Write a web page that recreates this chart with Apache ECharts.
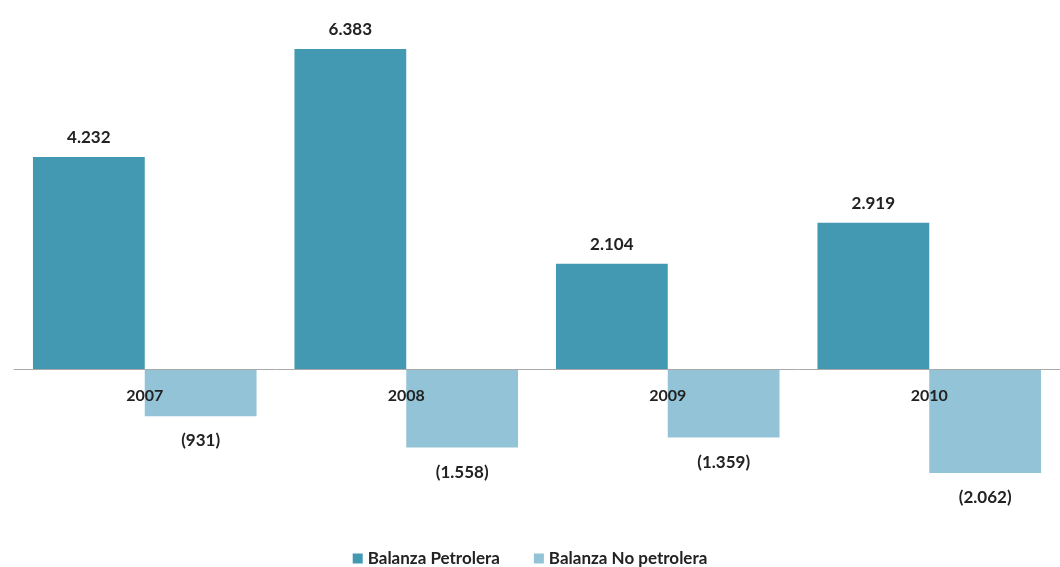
<!DOCTYPE html>
<html>
<head>
<meta charset="utf-8">
<script src="https://cdn.jsdelivr.net/npm/echarts@6/dist/echarts.min.js"></script>
<style>
  html, body { margin: 0; padding: 0; background: #fff; }
  #chart { width: 1060px; height: 567px; }
</style>
</head>
<body>
<div id="chart"></div>
<script>
const years = ['2007', '2008', '2009', '2010'];
const petrolera = [4232, 6383, 2104, 2919];
const noPetrolera = [-931, -1558, -1359, -2062];

// 4232 -> "4.232", -931 -> "(931)"
function fmt(v) {
  const s = Math.abs(v).toString().replace(/\B(?=(\d{3})+(?!\d))/g, '.');
  return v < 0 ? '(' + s + ')' : s;
}

const chart = echarts.init(document.getElementById('chart'));
const font = 'Lato, "Open Sans", sans-serif';

// grid: top 18, bottom 47 -> height 502 for 10000 units; zero line sits 150.6px above the bottom
chart.setOption({
  animation: false,
  color: ['#4499b2', '#93c3d6'],
  grid: { left: 14, right: -6, top: 18, bottom: 47 },
  legend: {
    top: 550,
    left: 'center',
    padding: 0,
    itemWidth: 10,
    itemHeight: 10,
    itemGap: 34,
    icon: 'rect',
    textStyle: { fontFamily: font, fontWeight: 'bold', fontSize: 17, color: '#222' },
    data: ['Balanza Petrolera', 'Balanza No petrolera']
  },
  xAxis: {
    type: 'category',
    data: years,
    z: 5,
    offset: -150.6,
    axisLine: { onZero: false, lineStyle: { color: '#aaa', width: 1 } },
    axisTick: { show: false },
    axisLabel: { margin: 18, fontFamily: font, fontWeight: 'bold', fontSize: 16, color: '#222' }
  },
  yAxis: {
    type: 'value',
    min: -3000,
    max: 7000,
    show: false,
    splitLine: { show: false }
  },
  series: [
    {
      name: 'Balanza Petrolera',
      type: 'bar',
      data: petrolera,
      barGap: '0%',
      barCategoryGap: '14.5%',
      label: {
        show: true,
        position: 'top',
        distance: 11,
        formatter: p => fmt(p.value),
        fontFamily: font, fontWeight: 'bold', fontSize: 17, color: '#222'
      }
    },
    {
      name: 'Balanza No petrolera',
      type: 'bar',
      data: noPetrolera,
      label: {
        show: true,
        position: 'bottom',
        distance: 16,
        formatter: p => fmt(p.value),
        fontFamily: font, fontWeight: 'bold', fontSize: 17, color: '#222'
      }
    }
  ]
});
</script>
</body>
</html>
